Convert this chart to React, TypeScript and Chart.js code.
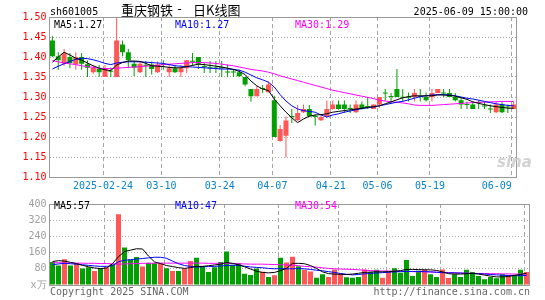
import React, { useEffect, useRef } from 'react';
import { Chart, registerables } from 'chart.js';

Chart.register(...registerables);

const dates = [
  '2025-02-11','2025-02-12','2025-02-13','2025-02-14','2025-02-17','2025-02-18','2025-02-19','2025-02-20','2025-02-21','2025-02-24',
  '2025-02-25','2025-02-26','2025-02-27','2025-02-28','2025-03-03','2025-03-04','2025-03-05','2025-03-06','2025-03-07','2025-03-10',
  '2025-03-11','2025-03-12','2025-03-13','2025-03-14','2025-03-17','2025-03-18','2025-03-19','2025-03-20','2025-03-21','2025-03-24',
  '2025-03-25','2025-03-26','2025-03-27','2025-03-28','2025-03-31','2025-04-01','2025-04-02','2025-04-03','2025-04-07','2025-04-08',
  '2025-04-09','2025-04-10','2025-04-11','2025-04-14','2025-04-15','2025-04-16','2025-04-17','2025-04-18','2025-04-21','2025-04-22',
  '2025-04-23','2025-04-24','2025-04-25','2025-04-28','2025-04-29','2025-04-30','2025-05-06','2025-05-07','2025-05-08','2025-05-09',
  '2025-05-12','2025-05-13','2025-05-14','2025-05-15','2025-05-16','2025-05-19','2025-05-20','2025-05-21','2025-05-22','2025-05-23',
  '2025-05-26','2025-05-27','2025-05-28','2025-05-29','2025-05-30','2025-06-03','2025-06-04','2025-06-05','2025-06-06','2025-06-09',
];

const opens = [
  1.441,1.402,1.383,1.400,1.382,1.400,1.382,1.362,1.370,1.350,
  1.365,1.350,1.431,1.412,1.383,1.362,1.380,1.381,1.362,1.382,
  1.362,1.372,1.362,1.372,1.390,1.400,1.377,1.374,1.374,1.374,
  1.363,1.363,1.362,1.350,1.320,1.302,1.321,1.312,1.292,1.190,
  1.203,1.252,1.242,1.262,1.270,1.252,1.242,1.252,1.270,1.281,
  1.281,1.272,1.262,1.281,1.277,1.270,1.281,1.311,1.301,1.320,
  1.300,1.300,1.300,1.302,1.300,1.300,1.310,1.311,1.310,1.300,
  1.292,1.282,1.281,1.287,1.278,1.271,1.262,1.281,1.276,1.270,
];
const highs = [
  1.452,1.412,1.420,1.410,1.412,1.410,1.392,1.380,1.380,1.380,
  1.374,1.498,1.441,1.420,1.390,1.389,1.390,1.389,1.389,1.392,
  1.380,1.380,1.380,1.392,1.410,1.400,1.385,1.390,1.390,1.390,
  1.381,1.370,1.368,1.350,1.320,1.327,1.330,1.339,1.303,1.230,
  1.252,1.270,1.280,1.281,1.280,1.258,1.254,1.291,1.291,1.291,
  1.291,1.281,1.291,1.289,1.300,1.281,1.300,1.320,1.310,1.370,
  1.320,1.311,1.320,1.320,1.311,1.320,1.320,1.320,1.320,1.310,
  1.300,1.289,1.289,1.292,1.289,1.281,1.289,1.289,1.281,1.289,
];
const lows = [
  1.400,1.368,1.378,1.372,1.368,1.368,1.350,1.358,1.350,1.350,
  1.350,1.350,1.402,1.372,1.352,1.360,1.350,1.356,1.360,1.368,
  1.350,1.360,1.350,1.360,1.378,1.370,1.360,1.360,1.360,1.350,
  1.350,1.350,1.350,1.327,1.289,1.302,1.310,1.312,1.200,1.188,
  1.149,1.235,1.240,1.260,1.250,1.229,1.240,1.248,1.268,1.268,
  1.260,1.260,1.260,1.268,1.270,1.270,1.273,1.290,1.283,1.300,
  1.289,1.289,1.289,1.289,1.289,1.289,1.310,1.300,1.300,1.289,
  1.270,1.270,1.270,1.270,1.270,1.260,1.260,1.260,1.260,1.270,
];
const closes = [
  1.402,1.392,1.410,1.385,1.400,1.383,1.373,1.373,1.362,1.372,
  1.363,1.441,1.412,1.392,1.373,1.383,1.378,1.370,1.381,1.380,
  1.372,1.362,1.372,1.392,1.388,1.383,1.375,1.372,1.371,1.372,
  1.361,1.361,1.352,1.331,1.302,1.320,1.320,1.331,1.200,1.220,
  1.241,1.250,1.260,1.270,1.252,1.250,1.250,1.270,1.281,1.270,
  1.270,1.270,1.281,1.270,1.275,1.281,1.300,1.309,1.300,1.300,
  1.298,1.298,1.310,1.300,1.292,1.310,1.320,1.309,1.300,1.292,
  1.281,1.280,1.270,1.285,1.276,1.269,1.281,1.262,1.274,1.281,
];
const ma5 = [
  1.387,1.400,1.412,1.405,1.397,1.392,1.385,1.378,1.372,1.368,
  1.366,1.380,1.386,1.390,1.390,1.389,1.384,1.378,1.377,1.376,
  1.374,1.373,1.373,1.376,1.379,1.382,1.381,1.379,1.377,1.375,
  1.372,1.369,1.364,1.356,1.340,1.328,1.320,1.316,1.295,1.278,
  1.262,1.248,1.236,1.245,1.252,1.255,1.256,1.258,1.262,1.264,
  1.266,1.268,1.270,1.272,1.274,1.276,1.278,1.283,1.288,1.293,
  1.298,1.301,1.303,1.303,1.303,1.303,1.305,1.305,1.304,1.302,
  1.298,1.294,1.288,1.284,1.281,1.278,1.276,1.274,1.272,1.272,
];
const ma10 = [
  1.370,1.377,1.383,1.389,1.394,1.397,1.396,1.393,1.389,1.384,
  1.381,1.385,1.387,1.388,1.388,1.388,1.387,1.386,1.385,1.384,
  1.381,1.378,1.377,1.376,1.375,1.374,1.373,1.372,1.371,1.370,
  1.370,1.369,1.367,1.362,1.355,1.348,1.343,1.337,1.325,1.306,
  1.290,1.278,1.270,1.266,1.264,1.262,1.255,1.250,1.255,1.258,
  1.262,1.265,1.268,1.271,1.273,1.275,1.278,1.281,1.284,1.287,
  1.289,1.293,1.297,1.301,1.303,1.305,1.306,1.306,1.305,1.303,
  1.300,1.297,1.295,1.292,1.289,1.286,1.283,1.281,1.279,1.278,
];
const ma30 = [
  1.391,1.388,1.385,1.383,1.381,1.378,1.376,1.374,1.372,1.371,
  1.371,1.372,1.373,1.374,1.375,1.376,1.377,1.378,1.379,1.381,
  1.382,1.383,1.384,1.385,1.386,1.386,1.386,1.385,1.384,1.382,
  1.380,1.378,1.375,1.372,1.369,1.367,1.365,1.362,1.358,1.353,
  1.349,1.345,1.341,1.337,1.333,1.329,1.325,1.321,1.317,1.314,
  1.311,1.308,1.305,1.302,1.299,1.296,1.292,1.290,1.288,1.287,
  1.285,1.283,1.280,1.279,1.279,1.279,1.280,1.281,1.282,1.283,
  1.284,1.285,1.286,1.287,1.287,1.288,1.288,1.289,1.289,1.289,
];
const volumes = [
  114,96,127,96,106,81,88,69,83,88,
  103,350,185,126,138,91,110,108,106,83,
  69,69,80,119,135,92,64,88,113,166,
  99,108,56,49,82,65,40,48,135,111,
  139,92,75,67,36,53,40,77,56,38,
  36,40,77,64,75,36,64,83,60,124,
  44,70,77,53,40,77,34,53,40,75,
  64,44,29,40,33,53,50,48,75,64,
];
const volMa5 = [
  116,120,118,112,106,97,90,84,81,84,
  105,140,165,172,179,178,143,114,106,96,
  91,86,82,86,92,92,95,99,103,111,
  107,100,90,79,68,62,60,62,71,82,
  107,107,105,96,82,65,56,54,53,52,
  54,58,62,64,65,65,66,68,71,77,
  77,76,75,75,72,65,56,54,54,56,
  57,54,49,44,40,40,42,48,52,58,
];
const volMa10 = [
  100,104,107,105,103,100,97,94,92,92,
  95,115,122,125,128,131,134,137,137,132,
  118,105,96,92,88,90,91,92,94,96,
  98,97,93,89,87,85,82,80,81,80,
  80,81,80,77,73,70,66,62,57,53,
  50,52,55,57,59,61,63,65,66,67,
  67,67,66,65,63,61,60,60,59,58,
  57,56,54,52,50,48,47,46,46,47,
];
const volMa30 = [
  110,110,109,109,108,108,107,107,106,106,
  104,103,104,105,106,107,107,108,108,108,
  108,108,108,108,108,108,107,107,107,107,
  106,105,104,103,103,103,102,101,100,99,
  98,95,92,90,88,85,82,80,79,78,
  77,75,73,71,70,69,69,68,68,67,
  66,65,65,64,63,62,61,60,59,58,
  58,57,57,56,56,55,55,54,54,54,
];

const tickDates = ['2025-02-24','2025-03-10','2025-03-24','2025-04-07','2025-04-21','2025-05-06','2025-05-19','2025-06-09'];
// the last label carries trailing spaces so that it stays inside the frame, as in the original
const tickLabels = ['2025-02-24','03-10','03-24','04-07','04-21','05-06','05-19','06-09     '];
const priceTicks = [1.10,1.15,1.20,1.25,1.30,1.35,1.40,1.45,1.50];
const priceTickLabels = ['1.10','1.15','1.20','1.25','1.30','1.35','1.40','1.45','1.50'];
const volTicks = [0,80,160,240,320,400];
const volTickLabels = ['x万','80','160','240','320','400'];

const MONO = '"DejaVu Sans Mono", "Liberation Mono", monospace';
const RED = '#ff5656';
const GREEN = '#00a000';
const BLUE_LABEL = '#0a84cc';

const idx = dates.map((_, i) => i);
const tickIdx = tickDates.map((d) => dates.indexOf(d));
const barColor = idx.map((i) => (closes[i] >= opens[i] ? RED : GREEN));

const framePlugin = {
  id: 'frame',
  afterDraw(chart: any) {
    const { ctx, chartArea: a } = chart;
    ctx.save();
    ctx.strokeStyle = '#999';
    ctx.lineWidth = 1;
    const x0 = Math.floor(a.left) + 0.5;
    const y0 = Math.floor(a.top) + 0.5;
    const x1 = Math.floor(a.right) + 0.5;
    const y1 = Math.floor(a.bottom) + 0.5;
    ctx.strokeRect(x0, y0, x1 - x0, y1 - y0);
    ctx.restore();
  },
};

const font10 = { family: MONO, size: 10 };

function xAxis(showLabels: boolean, height: number) {
  return {
    type: 'linear',
    min: -0.5,
    max: 79.5,
    offset: false,
    position: 'bottom',
    afterBuildTicks: (s: any) => {
      s.ticks = tickIdx.map((k) => ({ value: k - 1 / 3 }));
    },
    ticks: {
      display: true,
      autoSkip: false,
      maxRotation: 0,
      minRotation: 0,
      color: BLUE_LABEL,
      font: font10,
      padding: 3,
      callback: (_v: any, i: number) => (showLabels ? tickLabels[i] : ''),
    },
    grid: { display: true, color: '#a4a4a4', lineWidth: 1, drawTicks: false, offset: false, drawOnChartArea: true },
    border: { display: false, dash: [4, 3], dashOffset: 0 },
    afterFit: (s: any) => {
      s.height = height;
    },
  };
}

function lineDs(values: number[], color: string) {
  return {
    type: 'line',
    data: idx.map((i) => ({ x: i, y: values[i] })),
    borderColor: color,
    borderWidth: 1,
    pointRadius: 0,
    tension: 0,
    order: 0,
  };
}

export default function App() {
  const priceRef = useRef<HTMLCanvasElement>(null);
  const volRef = useRef<HTMLCanvasElement>(null);

  useEffect(() => {
    const priceChart = new Chart(priceRef.current as HTMLCanvasElement, {
      type: 'bar',
      data: {
        datasets: [
          lineDs(ma5, '#000000'),
          lineDs(ma10, '#0000ff'),
          lineDs(ma30, '#ff00ff'),
          {
            type: 'bar',
            data: idx.map((i) => ({ x: i, y: [opens[i], closes[i]] })),
            backgroundColor: barColor,
            barThickness: 5,
            minBarLength: 1,
            grouped: false,
            inflateAmount: 0,
            borderWidth: 0,
            order: 1,
          },
          {
            type: 'bar',
            data: idx.map((i) => ({ x: i, y: [lows[i], highs[i]] })),
            backgroundColor: barColor,
            barThickness: 1,
            grouped: false,
            inflateAmount: 0,
            borderWidth: 0,
            order: 2,
          },
        ],
      } as any,
      options: {
        responsive: false,
        animation: false,
        events: [],
        layout: { padding: { left: 0, right: 15.5, top: 17, bottom: 0 } },
        plugins: { legend: { display: false }, tooltip: { enabled: false }, title: { display: false } },
        scales: {
          x: xAxis(true, 18),
          y: {
            type: 'linear',
            min: 1.1,
            max: 1.5,
            afterBuildTicks: (s: any) => {
              s.ticks = priceTicks.map((v) => ({ value: v }));
            },
            ticks: {
              color: '#ff0000',
              font: font10,
              padding: 3,
              callback: (_v: any, i: number) => priceTickLabels[i],
            },
            grid: { color: '#aaaaaa', drawTicks: false },
            border: { display: false, dash: [1, 2] },
            afterFit: (s: any) => {
              s.width = 49.5;
            },
          },
        },
      } as any,
      plugins: [framePlugin],
    });

    const volChart = new Chart(volRef.current as HTMLCanvasElement, {
      type: 'bar',
      data: {
        datasets: [
          lineDs(volMa5, '#000000'),
          lineDs(volMa10, '#0000ff'),
          lineDs(volMa30, '#ff00ff'),
          {
            type: 'bar',
            data: idx.map((i) => ({ x: i, y: volumes[i] })),
            backgroundColor: barColor,
            barThickness: 5,
            grouped: false,
            inflateAmount: 0,
            borderWidth: 0,
            order: 1,
          },
        ],
      } as any,
      options: {
        responsive: false,
        animation: false,
        events: [],
        layout: { padding: { left: 0, right: 15.5, top: 5, bottom: 0 } },
        plugins: { legend: { display: false }, tooltip: { enabled: false }, title: { display: false } },
        scales: {
          x: xAxis(false, 15),
          y: {
            type: 'linear',
            min: 0,
            max: 400,
            afterBuildTicks: (s: any) => {
              s.ticks = volTicks.map((v) => ({ value: v }));
            },
            ticks: {
              color: '#a0a0a0',
              font: font10,
              padding: 3,
              callback: (_v: any, i: number) => volTickLabels[i],
            },
            grid: { color: '#aaaaaa', drawTicks: false },
            border: { display: false, dash: [1, 2] },
            afterFit: (s: any) => {
              s.width = 49.5;
            },
          },
        },
      } as any,
      plugins: [framePlugin],
    });

    return () => {
      priceChart.destroy();
      volChart.destroy();
    };
  }, []);

  const t = (s: string, style: React.CSSProperties) => (
    <div
      style={{
        position: 'absolute',
        whiteSpace: 'pre',
        fontFamily: MONO,
        fontSize: 10,
        lineHeight: '10px',
        ...style,
      }}
    >
      {s}
    </div>
  );

  return (
    <div
      style={{
        position: 'fixed',
        left: 0,
        top: 0,
        width: 545,
        height: 300,
        background: '#ffffff',
        overflow: 'hidden',
      }}
    >
      <canvas ref={priceRef} width={545} height={195} style={{ position: 'absolute', left: 0, top: 0, display: 'block' }} />
      <canvas ref={volRef} width={545} height={105} style={{ position: 'absolute', left: 0, top: 195, display: 'block' }} />

      {t('sh601005', { left: 50, top: 6.5, color: '#000' })}
      <div
        style={{
          position: 'absolute',
          left: 121,
          top: 3,
          fontFamily: '"Noto Sans CJK SC", sans-serif',
          fontSize: 13,
          lineHeight: '13px',
          whiteSpace: 'pre',
          color: '#000',
        }}
      >
        重庆钢铁
      </div>
      <div style={{ position: 'absolute', left: 176, top: 3, fontFamily: MONO, fontSize: 12, lineHeight: '13px', color: '#000' }}>-</div>
      <div
        style={{
          position: 'absolute',
          left: 193,
          top: 3,
          fontFamily: '"Noto Sans CJK SC", sans-serif',
          fontSize: 13,
          lineHeight: '13px',
          whiteSpace: 'pre',
          color: '#000',
        }}
      >
        日K线图
      </div>
      {t('2025-06-09 15:00:00', { right: 17, top: 6.5, color: '#000' })}

      {t('MA5:1.27', { left: 54, top: 19.5, color: '#000' })}
      {t('MA10:1.27', { left: 175, top: 19.5, color: '#0000ff' })}
      {t('MA30:1.29', { left: 295, top: 19.5, color: '#ff00ff' })}

      {t('MA5:57', { left: 54, top: 201, color: '#000' })}
      {t('MA10:47', { left: 175, top: 201, color: '#0000ff' })}
      {t('MA30:54', { left: 295, top: 201, color: '#ff00ff' })}

      <div
        style={{
          position: 'absolute',
          left: 497,
          top: 155,
          fontFamily: '"DejaVu Sans", sans-serif',
          fontStyle: 'italic',
          fontWeight: 'bold',
          fontSize: 15,
          lineHeight: '15px',
          color: '#d2d2d2',
        }}
      >
        sina
      </div>

      {t('Copyright 2025 SINA.COM', { left: 50, top: 287, color: '#666' })}
      {t('http://finance.sina.com.cn', { right: 15, top: 287, color: '#666' })}
    </div>
  );
}
